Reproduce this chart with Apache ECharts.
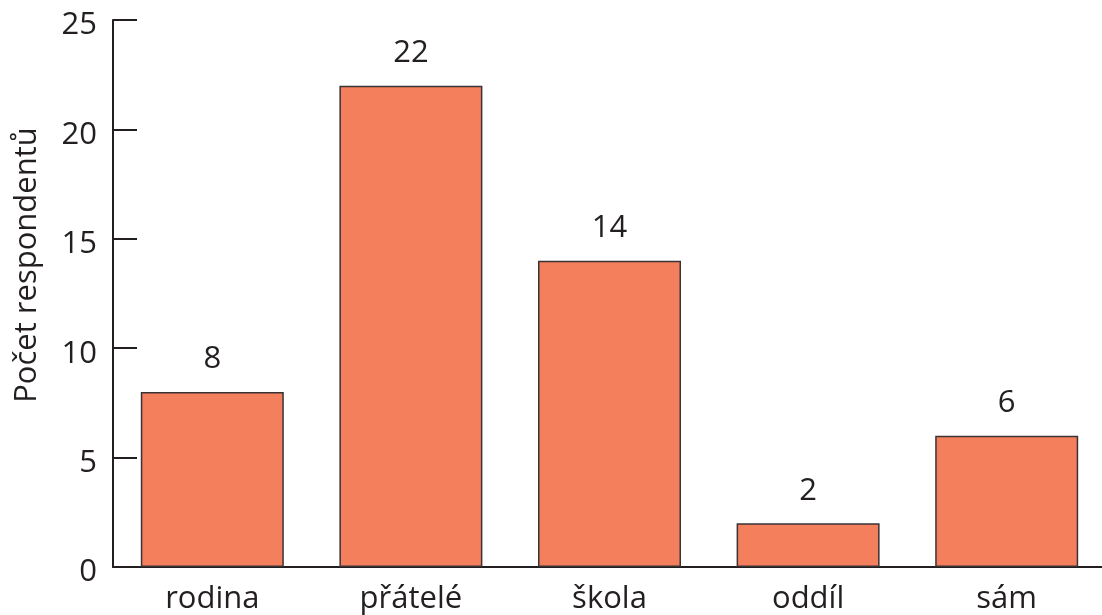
<!DOCTYPE html>
<html>
<head>
<meta charset="utf-8">
<script src="https://cdn.jsdelivr.net/npm/echarts@6/dist/echarts.min.js"></script>
<style>
  html, body { margin: 0; padding: 0; background: #fff; }
  #chart { width: 1102px; height: 615px; }
</style>
</head>
<body>
<div id="chart"></div>
<script>
// Who the respondents spend their time with
const categories = ['rodina', 'přátelé', 'škola', 'oddíl', 'sám'];
const counts = [8, 22, 14, 2, 6];
const yTicks = [0, 5, 10, 15, 20, 25];
const yTitle = 'Počet respondentů';

const FONT = '"Open Sans", "Noto Sans", sans-serif';
const INK = '#231f20';
const SIZE = 31;

const chart = echarts.init(document.getElementById('chart'));
chart.setOption({
  animation: false,
  backgroundColor: '#fff',
  grid: {
    left: 113, top: 20, bottom: 48, right: -4,
    containLabel: false,
    outerBoundsMode: 'none'
  },
  // vertical axis title, sitting a little above the axis middle
  graphic: [{
    type: 'text',
    x: 27,
    y: 265,
    rotation: Math.PI / 2,
    style: {
      text: yTitle,
      fill: INK,
      font: SIZE + 'px ' + FONT,
      align: 'center',
      verticalAlign: 'middle'
    }
  }],
  xAxis: {
    type: 'category',
    data: categories,
    axisLine: { lineStyle: { color: INK, width: 2 } },
    axisTick: { inside: true, length: 13, lineStyle: { color: INK, width: 2 } },
    axisLabel: { color: INK, fontFamily: FONT, fontSize: SIZE, margin: 17 }
  },
  yAxis: {
    type: 'value',
    min: yTicks[0],
    max: yTicks[yTicks.length - 1],
    interval: 5,
    axisLine: { show: true, lineStyle: { color: INK, width: 2 } },
    axisTick: { show: true, inside: true, length: 24, lineStyle: { color: INK, width: 2 } },
    axisLabel: {
      margin: 16,
      // tick numbers sit slightly below their tick marks
      formatter: '{n|{value}}',
      rich: {
        n: { color: INK, fontFamily: FONT, fontSize: SIZE, padding: [11, 0, 0, 0] }
      }
    },
    splitLine: { show: false }
  },
  series: [{
    type: 'bar',
    data: counts,
    barCategoryGap: '28%',
    itemStyle: { color: '#f37f5d', borderColor: '#3a3335', borderWidth: 1.5 },
    label: {
      show: true,
      position: 'top',
      distance: 17,
      color: INK,
      fontFamily: FONT,
      fontSize: SIZE
    }
  }]
});
</script>
</body>
</html>
